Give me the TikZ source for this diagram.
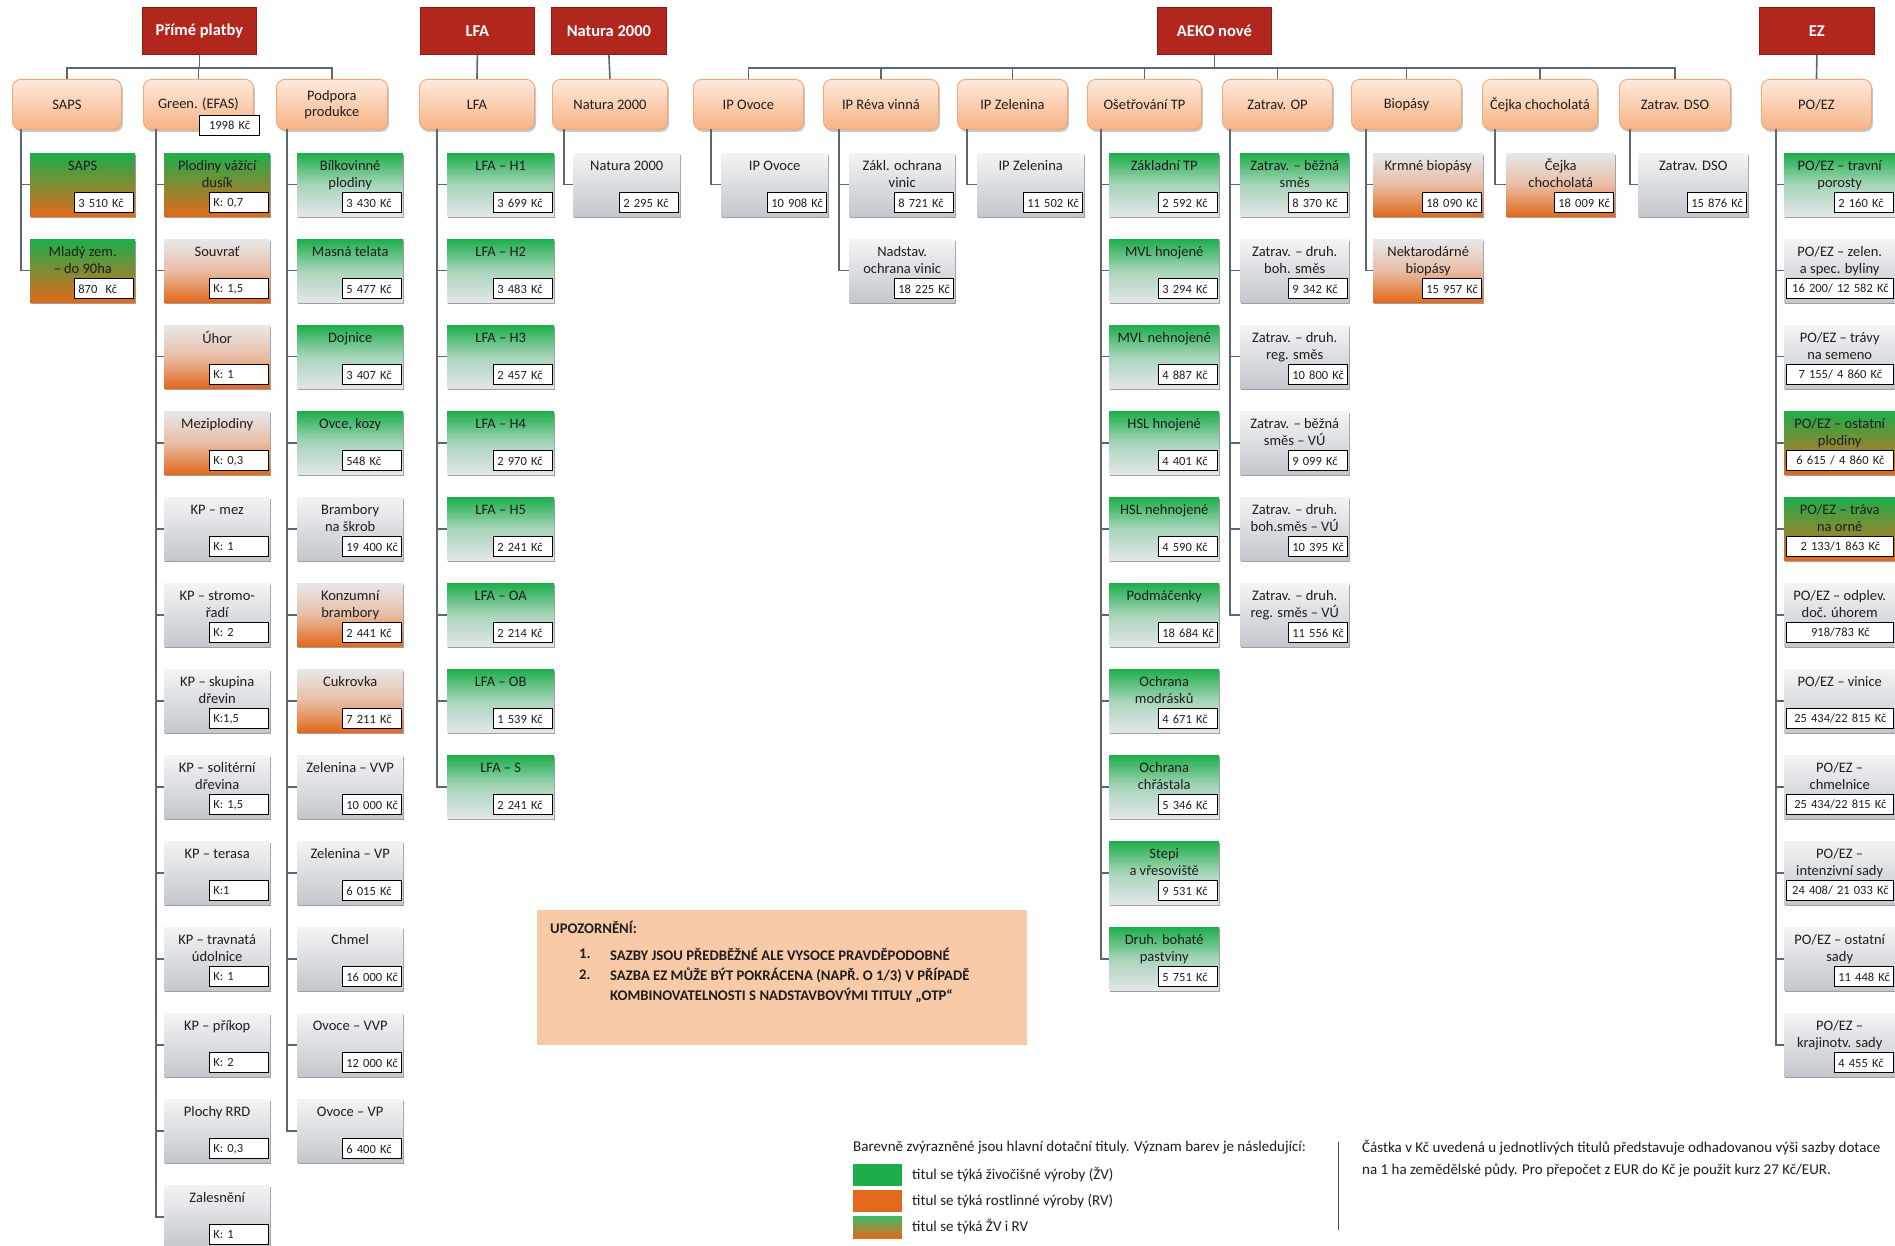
\documentclass[tikz,border=0pt]{standalone}
\usepackage{fontspec}
\setmainfont{Carlito}
\definecolor{redF}{HTML}{B1271D}
\definecolor{redB}{HTML}{8A1A12}
\definecolor{oTop}{HTML}{FEEADC}
\definecolor{oBot}{HTML}{F7B385}
\definecolor{oLine}{HTML}{EFA877}
\definecolor{cG}{HTML}{1DAE4B}
\definecolor{cO}{HTML}{E2691C}
\definecolor{cOmid}{HTML}{E9BDA6}
\definecolor{cPale}{HTML}{E3E6E9}
\definecolor{gTop}{HTML}{F3F4F5}
\definecolor{gBot}{HTML}{C3C7CC}
\definecolor{connC}{HTML}{5C6871}
\definecolor{txt}{HTML}{1E1E1E}
\definecolor{warnF}{HTML}{F9CAA8}
\definecolor{shadC}{HTML}{9B9FA3}
\tikzset{
 redbox/.style={draw=redB, line width=0.8pt, fill=redF, text=white, font=\bfseries\fontsize{16.5}{18}\selectfont, minimum height=47pt, inner sep=0pt, anchor=north west},
 obox/.style={draw=oLine, line width=0.9pt, rounded corners=8pt, top color=oTop, bottom color=oBot, minimum height=50pt, inner sep=0pt, anchor=north west, align=center, font=\fontsize{14.5}{16.5}\selectfont, text=txt, preaction={fill=black!22, transform canvas={xshift=1.5pt, yshift=-2.5pt}}},
 cb/.style={minimum height=63pt, inner sep=0pt, anchor=north west},
 fG/.style={top color=cG, bottom color=cPale, middle color=cG!30!cPale},
 fO/.style={top color=gTop!95!black, bottom color=cO, middle color=cOmid},
 fGO/.style={top color=cG, bottom color=cO},
 fGr/.style={top color=gTop, bottom color=gBot},
 ctitle/.style={anchor=north, align=center, inner sep=0pt, font=\fontsize{14.5}{16.5}\selectfont, text=txt},
 cval/.style={draw=black, line width=1.1pt, fill=white, anchor=south east, text width=52pt, align=left, inner xsep=3.5pt, inner ysep=0pt, minimum height=20pt, font=\fontsize{12.5}{14}\selectfont, text=txt},
 cvalW/.style={cval, text width=100pt, align=center},
 conn/.style={draw=connC, line width=1.6pt},
 wtext/.style={anchor=west, inner sep=0pt, font=\bfseries\fontsize{14.7}{16}\selectfont, text=txt},
 ltext/.style={anchor=west, inner sep=0pt, font=\fontsize{15}{17}\selectfont, text=txt},
}
\newcommand\ts{\rule{0pt}{12pt}}
\newcommand\kv[1]{\makebox[50pt][l]{#1}}
\newcommand\cbox[7]{%
  \pgfmathsetmacro\cyy{153+86*#3}%
  \fill[shadC] (#2+0.5,\cyy+2) rectangle ++(#4,63);
  \node[cb,#5,minimum width=#4pt] (#1) at (#2,\cyy) {};
  \node[ctitle] (#1t) at ([yshift=-5.7pt]#1.north) {\ts #6};
  \node[cval] (#1v) at ([xshift=-1pt,yshift=3pt]#1.south east) {#7};
}
\newcommand\cboxW[7]{%
  \pgfmathsetmacro\cyy{153+86*#3}%
  \fill[shadC] (#2+0.5,\cyy+2) rectangle ++(#4,63);
  \node[cb,#5,minimum width=#4pt] (#1) at (#2,\cyy) {};
  \node[ctitle] (#1t) at ([yshift=-5.7pt]#1.north) {\ts #6};
  \node[cvalW] (#1v) at ([xshift=-1pt,yshift=3pt]#1.south east) {#7};
}
\newcommand\trunk[3]{%
  \coordinate (#1tr) at (#2,129);
  \foreach \cn in {#3}{\draw[conn] (#1tr) |- (\cn.west);}
}
\begin{document}
\begin{tikzpicture}[x=1pt,y=-1pt]
\fill[white] (0,0) rectangle (1895,1246);
\useasboundingbox (0,0) rectangle (1895,1246);
\coordinate (busY) at (0,68);

% ---------- red headers ----------
\node[redbox, minimum width=114pt] (pp) at (142,7) {Přímé platby};
\node[redbox, minimum width=114pt] (lfaR) at (420,7) {LFA};
\node[redbox, minimum width=115pt] (natR) at (551,7) {Natura 2000};
\node[redbox, minimum width=114pt] (aeko) at (1157,7) {AEKO nové};
\node[redbox, minimum width=115pt] (ez) at (1759,7) {EZ};

% ---------- orange boxes ----------
\node[obox, minimum width=109pt] (saps) at (12,79) {SAPS};
\node[obox, minimum width=110pt] (efas) at (143,79) {Green. (EFAS)};
\node[obox, minimum width=111pt] (podp) at (276,79) {Podpora\\produkce};
\node[obox, minimum width=115pt] (lfa) at (419,79) {LFA};
\node[obox, minimum width=115pt] (nat) at (552,79) {Natura 2000};
\node[obox, minimum width=110pt] (ipo) at (693,79) {IP Ovoce};
\node[obox, minimum width=115pt] (ipr) at (823,79) {IP Réva vinná};
\node[obox, minimum width=110pt] (ipz) at (957,79) {IP Zelenina};
\node[obox, minimum width=114pt] (ost) at (1087,79) {Ošetřování TP};
\node[obox, minimum width=110pt] (zop) at (1222,79) {Zatrav. OP};
\node[obox, minimum width=110pt] (bio) at (1351,79) {Biopásy};
\node[obox, minimum width=115pt] (cej) at (1482,79) {Čejka chocholatá};
\node[obox, minimum width=111pt] (dso) at (1619,79) {Zatrav. DSO};
\node[obox, minimum width=110pt] (poez) at (1761,79) {PO/EZ};
\node[cval, anchor=north west, text width=53pt, align=center] (efasv) at (199,115) {1998 Kč};

% ---------- header connectors ----------
\draw[conn] (pp.south) -- (pp.south |- busY);
\draw[conn] (saps.north) |- (podp.north |- busY) -- (podp.north);
\draw[conn] (efas.north) -- (efas.north |- busY);
\draw[conn] (lfaR.south) -- (lfa.north);
\draw[conn] (natR.south) -- (nat.north);
\draw[conn] (ez.south) -- (poez.north);
\draw[conn] (aeko.south) -- (aeko.south |- busY);
\draw[conn] (ipo.north) |- (dso.north |- busY) -- (dso.north);
\foreach \nn in {ipr,ipz,ost,zop,bio,cej} {\draw[conn] (\nn.north) -- (\nn.north |- busY);}

% ---------- SAPS ----------
\cbox{s1}{30}{0}{105}{fGO}{SAPS}{3 510 Kč}
\cbox{s2}{30}{1}{105}{fGO}{Mladý zem.\\– do 90ha}{870 \ Kč}
\trunk{saps}{21}{s1,s2}

% ---------- Green (EFAS) ----------
\cbox{e1}{164}{0}{106}{fGO}{Plodiny vážící\\dusík}{\kv{K: 0,7}}
\cbox{e2}{164}{1}{106}{fO}{Souvrať}{\kv{K: 1,5}}
\cbox{e3}{164}{2}{106}{fO}{Úhor}{\kv{K: 1}}
\cbox{e4}{164}{3}{106}{fO}{Meziplodiny}{\kv{K: 0,3}}
\cbox{e5}{164}{4}{106}{fGr}{KP – mez}{\kv{K: 1}}
\cbox{e6}{164}{5}{106}{fGr}{KP – stromo-\\řadí}{\kv{K: 2}}
\cbox{e7}{164}{6}{106}{fGr}{KP – skupina\\dřevin}{\kv{K:1,5}}
\cbox{e8}{164}{7}{106}{fGr}{KP – solitérní\\dřevina}{\kv{K: 1,5}}
\cbox{e9}{164}{8}{106}{fGr}{KP – terasa}{\kv{K:1}}
\cbox{e10}{164}{9}{106}{fGr}{KP – travnatá\\údolnice}{\kv{K: 1}}
\cbox{e11}{164}{10}{106}{fGr}{KP – příkop}{\kv{K: 2}}
\cbox{e12}{164}{11}{106}{fGr}{Plochy RRD}{\kv{K: 0,3}}
\cbox{e13}{164}{12}{106}{fGr}{Zalesnění}{\kv{K: 1}}
\trunk{efas}{156}{e1,e2,e3,e4,e5,e6,e7,e8,e9,e10,e11,e12,e13}

% ---------- Podpora produkce ----------
\cbox{p1}{297}{0}{106}{fG}{Bílkovinné\\plodiny}{3 430 Kč}
\cbox{p2}{297}{1}{106}{fG}{Masná telata}{5 477 Kč}
\cbox{p3}{297}{2}{106}{fG}{Dojnice}{3 407 Kč}
\cbox{p4}{297}{3}{106}{fG}{Ovce, kozy}{548 Kč}
\cbox{p5}{297}{4}{106}{fGr}{Brambory\\na škrob}{19 400 Kč}
\cbox{p6}{297}{5}{106}{fO}{Konzumní\\brambory}{2 441 Kč}
\cbox{p7}{297}{6}{106}{fO}{Cukrovka}{7 211 Kč}
\cbox{p8}{297}{7}{106}{fGr}{Zelenina – VVP}{10 000 Kč}
\cbox{p9}{297}{8}{106}{fGr}{Zelenina – VP}{6 015 Kč}
\cbox{p10}{297}{9}{106}{fGr}{Chmel}{16 000 Kč}
\cbox{p11}{297}{10}{106}{fGr}{Ovoce – VVP}{12 000 Kč}
\cbox{p12}{297}{11}{106}{fGr}{Ovoce – VP}{6 400 Kč}
\trunk{podp}{287}{p1,p2,p3,p4,p5,p6,p7,p8,p9,p10,p11,p12}

% ---------- LFA ----------
\cbox{l1}{447}{0}{107}{fG}{LFA – H1}{3 699 Kč}
\cbox{l2}{447}{1}{107}{fG}{LFA – H2}{3 483 Kč}
\cbox{l3}{447}{2}{107}{fG}{LFA – H3}{2 457 Kč}
\cbox{l4}{447}{3}{107}{fG}{LFA – H4}{2 970 Kč}
\cbox{l5}{447}{4}{107}{fG}{LFA – H5}{2 241 Kč}
\cbox{l6}{447}{5}{107}{fG}{LFA – OA}{2 214 Kč}
\cbox{l7}{447}{6}{107}{fG}{LFA – OB}{1 539 Kč}
\cbox{l8}{447}{7}{107}{fG}{LFA – S}{2 241 Kč}
\trunk{lfa}{437}{l1,l2,l3,l4,l5,l6,l7,l8}

% ---------- Natura ----------
\cbox{n1}{573}{0}{107}{fGr}{Natura 2000}{2 295 Kč}
\trunk{nat}{564}{n1}

% ---------- IP ----------
\cbox{io1}{721}{0}{107}{fGr}{IP Ovoce}{10 908 Kč}
\trunk{ipo}{711}{io1}
\cbox{ir1}{849}{0}{106}{fGr}{Zákl. ochrana\\vinic}{8 721 Kč}
\cbox{ir2}{849}{1}{106}{fGr}{Nadstav.\\ochrana vinic}{18 225 Kč}
\trunk{ipr}{839}{ir1,ir2}
\cbox{iz1}{977}{0}{107}{fGr}{IP Zelenina}{11 502 Kč}
\trunk{ipz}{967}{iz1}

% ---------- Ošetřování TP ----------
\cbox{o1}{1109}{0}{110}{fG}{Základní TP}{2 592 Kč}
\cbox{o2}{1109}{1}{110}{fG}{MVL hnojené}{3 294 Kč}
\cbox{o3}{1109}{2}{110}{fG}{MVL nehnojené}{4 887 Kč}
\cbox{o4}{1109}{3}{110}{fG}{HSL hnojené}{4 401 Kč}
\cbox{o5}{1109}{4}{110}{fG}{HSL nehnojené}{4 590 Kč}
\cbox{o6}{1109}{5}{110}{fG}{Podmáčenky}{18 684 Kč}
\cbox{o7}{1109}{6}{110}{fG}{Ochrana\\modrásků}{4 671 Kč}
\cbox{o8}{1109}{7}{110}{fG}{Ochrana\\chřástala}{5 346 Kč}
\cbox{o9}{1109}{8}{110}{fG}{Stepi\\a vřesoviště}{9 531 Kč}
\cbox{o10}{1109}{9}{110}{fG}{Druh. bohaté\\pastviny}{5 751 Kč}
\trunk{ost}{1101}{o1,o2,o3,o4,o5,o6,o7,o8,o9,o10}

% ---------- Zatrav. OP ----------
\cbox{z1}{1240}{0}{109}{fG}{Zatrav. – běžná\\směs}{8 370 Kč}
\cbox{z2}{1240}{1}{109}{fGr}{Zatrav. – druh.\\boh. směs}{9 342 Kč}
\cbox{z3}{1240}{2}{109}{fGr}{Zatrav. – druh.\\reg. směs}{10 800 Kč}
\cbox{z4}{1240}{3}{109}{fGr}{Zatrav. – běžná\\směs – VÚ}{9 099 Kč}
\cbox{z5}{1240}{4}{109}{fGr}{Zatrav. – druh.\\boh.směs – VÚ}{10 395 Kč}
\cbox{z6}{1240}{5}{109}{fGr}{Zatrav. – druh.\\reg. směs – VÚ}{11 556 Kč}
\trunk{zop}{1230}{z1,z2,z3,z4,z5,z6}

% ---------- Biopásy, Čejka, DSO ----------
\cbox{b1}{1373}{0}{110}{fO}{Krmné biopásy}{18 090 Kč}
\cbox{b2}{1373}{1}{110}{fO}{Nektarodárné\\biopásy}{15 957 Kč}
\trunk{bio}{1366}{b1,b2}
\cbox{c1}{1506}{0}{109}{fO}{Čejka\\chocholatá}{18 009 Kč}
\trunk{cej}{1495}{c1}
\cbox{d1}{1638}{0}{110}{fGr}{Zatrav. DSO}{15 876 Kč}
\trunk{dso}{1630}{d1}

% ---------- PO/EZ ----------
\cbox{x1}{1784}{0}{111}{fG}{PO/EZ – travní\\porosty}{2 160 Kč}
\cboxW{x2}{1784}{1}{111}{fGr}{PO/EZ – zelen.\\a spec. byliny}{16 200/ 12 582 Kč}
\cboxW{x3}{1784}{2}{111}{fGr}{PO/EZ – trávy\\na semeno}{7 155/ 4 860 Kč}
\cboxW{x4}{1784}{3}{111}{fGO}{PO/EZ – ostatní\\plodiny}{6 615 / 4 860 Kč}
\cboxW{x5}{1784}{4}{111}{fGO}{PO/EZ – tráva\\na orné}{2 133/1 863 Kč}
\cboxW{x6}{1784}{5}{111}{fGr}{PO/EZ – odplev.\\doč. úhorem}{918/783 Kč}
\cboxW{x7}{1784}{6}{111}{fGr}{PO/EZ – vinice}{25 434/22 815 Kč}
\cboxW{x8}{1784}{7}{111}{fGr}{PO/EZ –\\chmelnice}{25 434/22 815 Kč}
\cboxW{x9}{1784}{8}{111}{fGr}{PO/EZ –\\intenzivní sady}{24 408/ 21 033 Kč}
\cbox{x10}{1784}{9}{111}{fGr}{PO/EZ – ostatní\\sady}{11 448 Kč}
\cbox{x11}{1784}{10}{111}{fGr}{PO/EZ –\\krajinotv. sady}{4 455 Kč}
\trunk{poez}{1776}{x1,x2,x3,x4,x5,x6,x7,x8,x9,x10,x11}

% ---------- warning ----------
\node[fill=warnF, anchor=north west, minimum width=490pt, minimum height=135pt, inner sep=0pt] (warn) at (537,910) {};
\node[wtext] (w0) at (550,927) {UPOZORNĚNÍ:};
\node[wtext] (w1n) at (579,954) {1.};
\node[wtext] (w1) at (610,954) {SAZBY JSOU PŘEDBĚŽNÉ ALE VYSOCE PRAVDĚPODOBNÉ};
\node[wtext] (w2n) at (579,975) {2.};
\node[wtext] (w2) at (610,975) {SAZBA EZ MŮŽE BÝT POKRÁCENA (NAPŘ. O 1/3) V PŘÍPADĚ};
\node[wtext] (w3) at (610,995) {KOMBINOVATELNOSTI S NADSTAVBOVÝMI TITULY „OTP“};

% ---------- legend ----------
\node[ltext] (lh) at (853,1148) {Barevně zvýrazněné jsou hlavní dotační tituly. Význam barev je následující:};
\node[anchor=north west, minimum width=49pt, minimum height=22pt, inner sep=0pt, fill=cG] (lg1) at (853,1164) {};
\node[anchor=north west, minimum width=49pt, minimum height=22pt, inner sep=0pt, fill=cO] (lg2) at (853,1190) {};
\node[anchor=north west, minimum width=49pt, minimum height=22pt, inner sep=0pt, top color=cG!85!white, bottom color=cO] (lg3) at (853,1216) {};
\node[ltext] (lt1) at (912,1175) {titul se týká živočišné výroby (ŽV)};
\node[ltext] (lt2) at (912,1201) {titul se týká rostlinné výroby (RV)};
\node[ltext] (lt3) at (912,1227) {titul se týká ŽV i RV};
\coordinate (divA) at (1338,1142);
\coordinate (divB) at (1338,1230);
\draw[draw=black!70, line width=0.9pt] (divA) -- (divB);
\node[ltext] (rt1) at (1362,1148) {Částka v Kč uvedená u jednotlivých titulů představuje odhadovanou výši sazby dotace};
\node[ltext] (rt2) at (1362,1170) {na 1 ha zemědělské půdy. Pro přepočet z EUR do Kč je použit kurz 27 Kč/EUR.};
\end{tikzpicture}
\end{document}
